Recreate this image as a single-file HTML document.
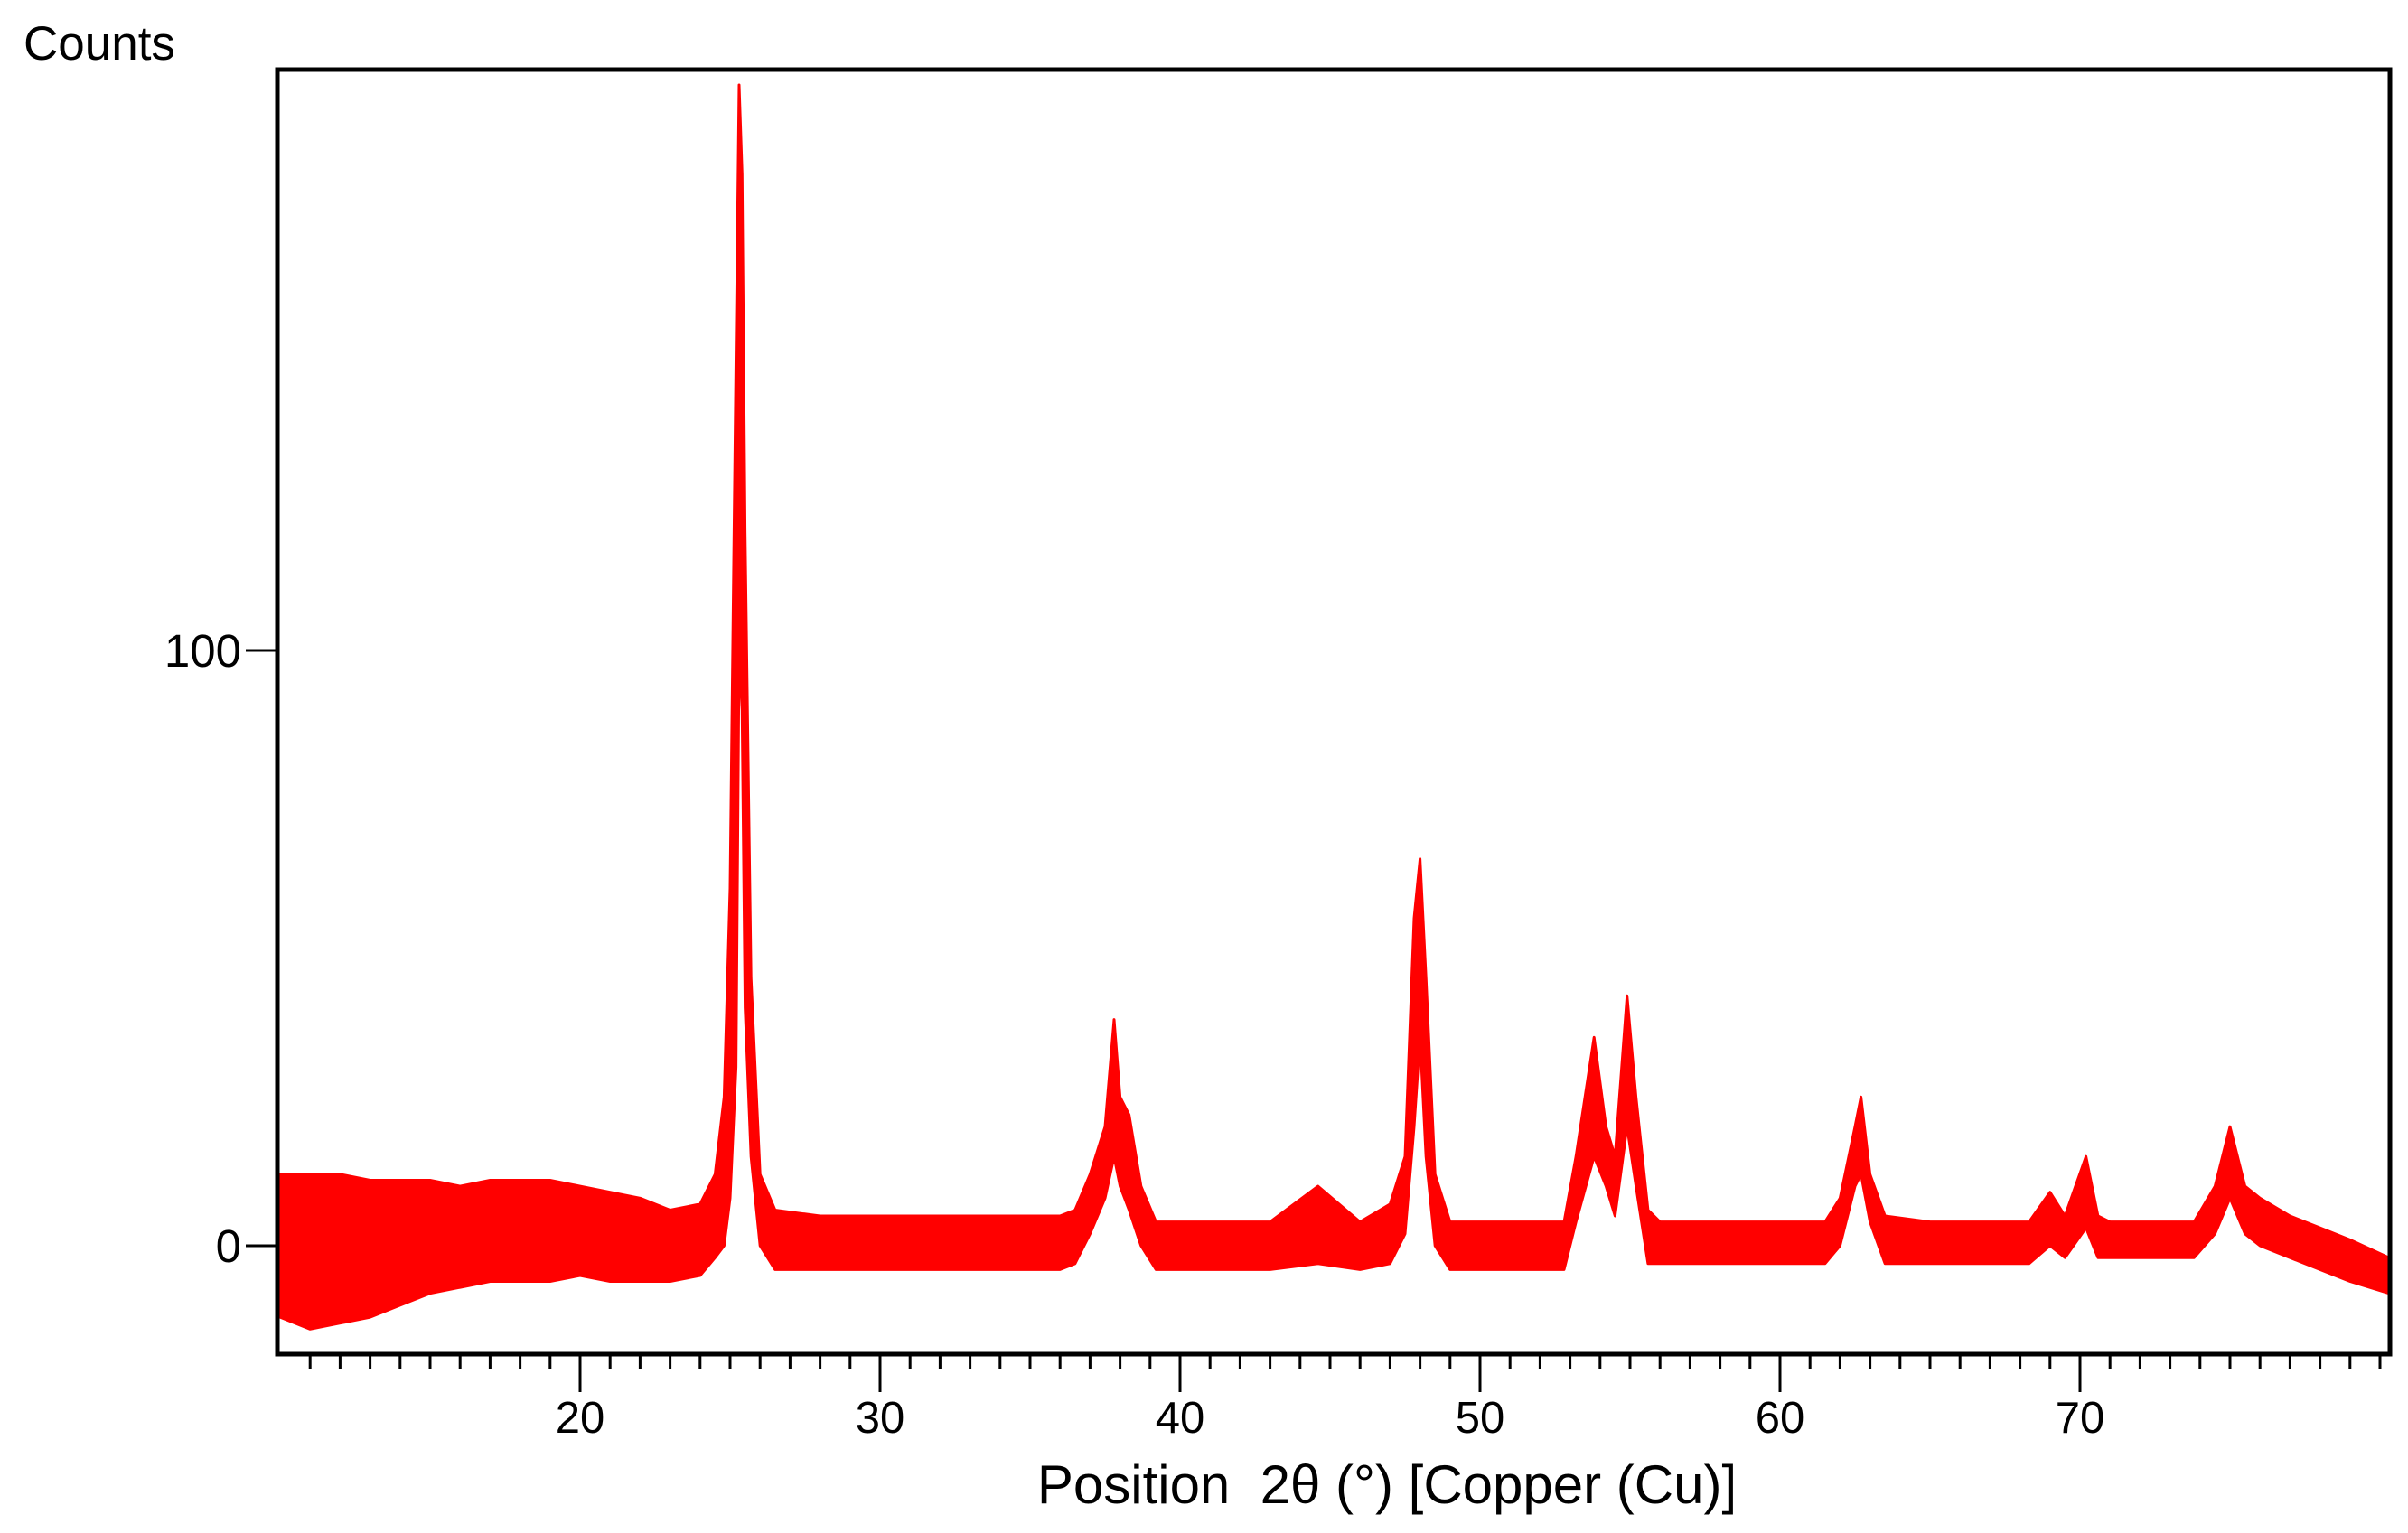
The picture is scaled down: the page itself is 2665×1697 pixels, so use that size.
<!DOCTYPE html>
<html><head><meta charset="utf-8"><style>
html,body{margin:0;padding:0;background:#fff}
svg{display:block}
text{font-family:"Liberation Sans",Arial,sans-serif;fill:#000}
</style></head><body>
<svg id="chart" width="2665" height="1697" viewBox="0 0 2665 1697">
<text x="26" y="66" font-size="53">Counts</text>
<g id="plot"></g>
<rect x="307" y="77" width="2338" height="1422" fill="none" stroke="#000" stroke-width="5"/>
<g id="axes"></g>
<text x="1535" y="1664" font-size="60" text-anchor="middle">Position&#160; 2θ (°) [Copper (Cu)]</text>
</svg>
<script>
const angles = [10,11,12,13,14,15,16,17,18,19,20,21,22,23,24,24.5,24.8,25.0,25.2,25.3,25.4,25.5,25.7,26.0,26.5,28,30,32,34,36,36.5,37,37.5,37.8,38.0,38.3,38.7,39.2,41,43,44.6,46,47,47.5,47.8,48.0,48.2,48.5,49,51,52.8,53.2,53.8,54.2,54.5,54.9,55.2,55.6,56,58,60,61.5,62,62.5,62.7,63,63.5,65,67,68.3,69,69.5,70.2,70.6,71,73,73.8,74.5,75.0,75.5,76,77,78,79,80.3];
const lows =   [-12,-14,-13,-12,-10,-8,-7,-6,-6,-6,-5,-6,-6,-6,-5,-2,0,8,30,100,90,40,15,0,-4,-4,-4,-4,-4,-4,-3,2,8,15,10,6,0,-4,-4,-4,-3,-4,-3,2,20,35,15,0,-4,-4,-4,4,15,10,5,20,10,-3,-3,-3,-3,-3,0,10,12,4,-3,-3,-3,-3,0,-2,3,-2,-2,-2,-2,2,8,2,0,-2,-4,-6,-8];
const highs =  [12,12,12,11,11,11,10,11,11,11,10,9,8,6,7,12,25,60,150,195,180,120,45,12,6,5,5,5,5,5,6,12,20,38,25,22,10,4,4,4,10,4,7,15,55,65,45,12,4,4,4,15,35,20,15,42,25,6,4,4,4,4,8,20,25,12,5,4,4,4,9,5,15,5,4,4,4,10,20,10,8,5,3,1,-2];
const xTicks = [20,30,40,50,60,70];
const yTicks = [0,100];
const NS = "http://www.w3.org/2000/svg";
function xs(d){ return 310 + (d - 10) * 33.2; }
function ys(c){ return 1379 - c * 6.59; }
const plot = document.getElementById('plot');
const axes = document.getElementById('axes');
let pts = [];
for (let i = 0; i < angles.length; i++) pts.push(xs(angles[i]).toFixed(1) + ',' + ys(highs[i]).toFixed(1));
for (let i = angles.length - 1; i >= 0; i--) pts.push(xs(angles[i]).toFixed(1) + ',' + ys(lows[i]).toFixed(1));
const band = document.createElementNS(NS, 'polygon');
band.setAttribute('points', pts.join(' '));
band.setAttribute('fill', '#ff0000');
band.setAttribute('stroke', '#ff0000');
band.setAttribute('stroke-width', '3');
band.setAttribute('stroke-linejoin', 'round');


plot.appendChild(band);
for (let d = 11; d <= 80; d++) {
  const major = xTicks.indexOf(d) >= 0;
  const t = document.createElementNS(NS, 'line');
  t.setAttribute('x1', xs(d)); t.setAttribute('x2', xs(d));
  t.setAttribute('y1', 1499); t.setAttribute('y2', major ? 1541 : 1515);
  t.setAttribute('stroke', '#000'); t.setAttribute('stroke-width', '3');
  
  
  axes.appendChild(t);
}
xTicks.forEach(v => {
  const l = document.createElementNS(NS, 'text');
  l.setAttribute('x', xs(v)); l.setAttribute('y', 1586);
  l.setAttribute('font-size', '49'); l.setAttribute('text-anchor', 'middle');
  l.textContent = v;
  
  
  axes.appendChild(l);
});
yTicks.forEach(v => {
  const t = document.createElementNS(NS, 'line');
  t.setAttribute('x1', 272); t.setAttribute('x2', 307);
  t.setAttribute('y1', ys(v)); t.setAttribute('y2', ys(v));
  t.setAttribute('stroke', '#000'); t.setAttribute('stroke-width', '3');
  
  
  axes.appendChild(t);
  const l = document.createElementNS(NS, 'text');
  l.setAttribute('x', 267); l.setAttribute('y', ys(v) + 18);
  l.setAttribute('font-size', '51'); l.setAttribute('text-anchor', 'end');
  l.textContent = v;
  
  
  axes.appendChild(l);
});
</script>
</body></html>
